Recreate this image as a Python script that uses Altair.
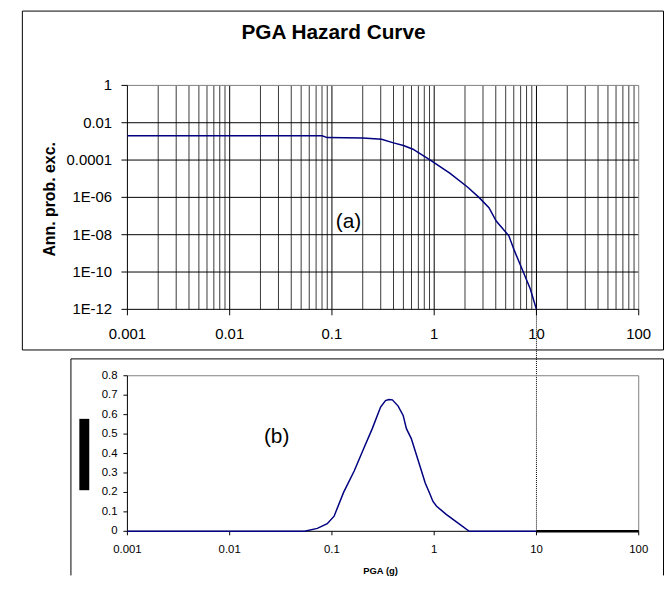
import altair as alt
import pandas as pd

# ---------------- data ----------------
# (a) hazard curve
haz_pga = [0.001, 0.08, 0.09, 0.2, 0.306, 0.4, 0.5, 0.62, 0.94, 1.42, 2.13, 2.77,
           3.43, 4.04, 5.37, 6.08, 7.33, 8.67, 10]
haz_prob = [2.0e-3, 2.0e-3, 1.6e-3, 1.5e-3, 1.3e-3, 8.3e-4, 6.0e-4, 3.8e-4, 9.0e-5,
            2.0e-5, 3.5e-6, 9.4e-7, 2.8e-7, 5.4e-8, 8.7e-9, 1.4e-9, 1.2e-10,
            1.3e-11, 1.0e-12]

# (b) density curve
pdf_pga = [0.001, 0.054, 0.072, 0.09, 0.105, 0.13, 0.165, 0.206, 0.248, 0.299,
           0.334, 0.36, 0.39, 0.444, 0.497, 0.535, 0.597, 0.72, 0.817, 0.9, 0.97,
           1.05, 1.31, 1.7, 2.2, 10]
pdf_val = [0, 0, 0.015, 0.039, 0.078, 0.2, 0.31, 0.43, 0.528, 0.639, 0.672,
           0.678, 0.676, 0.644, 0.596, 0.528, 0.477, 0.341, 0.248, 0.197, 0.155,
           0.13, 0.087, 0.043, 0, 0]
tail_pga = [10, 100]
tail_val = [0, 0]

# axes ticks and labels
x_tick_values = [0.001, 0.01, 0.1, 1, 10, 100]
x_tick_labels = ["0.001", "0.01", "0.1", "1", "10", "100"]
y_top_values = [1, 1e-2, 1e-4, 1e-6, 1e-8, 1e-10, 1e-12]
y_top_labels = ["1", "0.01", "0.0001", "1E-06", "1E-08", "1E-10", "1E-12"]
y_bot_values = [0, 0.1, 0.2, 0.3, 0.4, 0.5, 0.6, 0.7, 0.8]
y_bot_labels = ["0", "0.1", "0.2", "0.3", "0.4", "0.5", "0.6", "0.7", "0.8"]

# gridlines of panel (a)
decades = [0.001, 0.01, 0.1, 1, 10]
minor_mult = [2, 3, 4, 5, 6, 7, 8, 9]
v_minor = [round(m * d, 6) for d in decades for m in minor_mult]
v_major = [0.01, 0.1, 1, 10]
h_major = [1e-2, 1e-4, 1e-6, 1e-8, 1e-10]

# annotations
title_text = "PGA Hazard Curve"
ytitle_text = "Ann. prob. exc."
xtitle_text = "PGA (g)"
label_a = {"pga": [0.145], "prob": [2.2e-8], "t": ["(a)"]}
label_b = {"pga": [0.0288], "val": [0.454], "t": ["(b)"]}
marker_pga = 10
marker_top = 3.6e-8

# ---------------- layout ----------------
W, H = 662, 570
FONT = "Liberation Sans"
XR = [120.5, 636.5]
YR_TOP = [301.5, 75.5]
YR_BOT = [525.5, 368.5]
NAVY = "#000080"
GREY = "#808080"

xs_top = alt.Scale(type="log", domain=[0.001, 100], range=XR, nice=False)
xs_bot = alt.Scale(type="log", domain=[0.001, 100], range=XR, nice=False)
ys_top = alt.Scale(type="log", domain=[1e-12, 1], range=YR_TOP, nice=False)
ys_bot = alt.Scale(type="linear", domain=[0, 0.8], range=YR_BOT, nice=False, zero=False)

one = pd.DataFrame({"a": [0]})


def X(field, sc):
    return alt.X(field, scale=sc, axis=None)


def Y(field, sc):
    return alt.Y(field, scale=sc, axis=None)


def vrules(values, lo, hi, xs, ys, color, width=1, dash=None):
    df = pd.DataFrame({"x": values, "y1": lo, "y2": hi})
    kw = dict(color=color, strokeWidth=width)
    if dash:
        kw["strokeDash"] = dash
    return alt.Chart(df).mark_rule(**kw).encode(x=X("x:Q", xs), y=Y("y1:Q", ys), y2="y2:Q")


def hrules(values, lo, hi, xs, ys, color, width=1):
    df = pd.DataFrame({"y": values, "x1": lo, "x2": hi})
    return alt.Chart(df).mark_rule(color=color, strokeWidth=width).encode(
        x=X("x1:Q", xs), x2="x2:Q", y=Y("y:Q", ys))


def xaxis(xs, ys, y_at, tick_px, label_px, size):
    dft = pd.DataFrame({"x": x_tick_values, "y": y_at, "t": x_tick_labels})
    ticks = alt.Chart(dft).mark_rule(color="black", strokeWidth=1).encode(
        x=X("x:Q", xs), y=Y("y:Q", ys), y2=alt.value(tick_px))
    labels = alt.Chart(dft).mark_text(
        font=FONT, fontSize=size, color="black", align="center", baseline="alphabetic"
    ).encode(x=X("x:Q", xs), y=alt.value(label_px), text="t:N")
    return [ticks, labels]


def yaxis(values, texts, xs, ys, x_at, tick_px, label_px, size):
    dft = pd.DataFrame({"y": values, "x": x_at, "t": texts})
    ticks = alt.Chart(dft).mark_rule(color="black", strokeWidth=1).encode(
        y=Y("y:Q", ys), x=X("x:Q", xs), x2=alt.value(tick_px))
    labels = alt.Chart(dft).mark_text(
        font=FONT, fontSize=size, color="black", align="right", baseline="middle"
    ).encode(y=Y("y:Q", ys), x=alt.value(label_px), text="t:N")
    return [ticks, labels]


def border(x1, x2, y1, y2, sides):
    out = []
    if "t" in sides:
        out.append(alt.Chart(one).mark_rule(color="black").encode(
            x=alt.value(x1), x2=alt.value(x2), y=alt.value(y1)))
    if "b" in sides:
        out.append(alt.Chart(one).mark_rule(color="black").encode(
            x=alt.value(x1), x2=alt.value(x2), y=alt.value(y2)))
    if "l" in sides:
        out.append(alt.Chart(one).mark_rule(color="black").encode(
            x=alt.value(x1), y=alt.value(y1), y2=alt.value(y2)))
    if "r" in sides:
        out.append(alt.Chart(one).mark_rule(color="black").encode(
            x=alt.value(x2), y=alt.value(y1), y2=alt.value(y2)))
    return out


# ---------- panel (a) ----------
df_haz = pd.DataFrame({"pga": haz_pga, "prob": haz_prob})
df_mark = pd.DataFrame({"pga": [marker_pga], "p1": [marker_top]})

top_layers = [
    vrules(v_minor, 1.0, 1e-12, xs_top, ys_top, "#3a3a3a"),
    vrules(v_major, 1.0, 1e-12, xs_top, ys_top, "black"),
    hrules(h_major, 0.001, 100.0, xs_top, ys_top, "black"),
    hrules([1.0], 0.001, 100.0, xs_top, ys_top, GREY),
    vrules([100.0], 1.0, 1e-12, xs_top, ys_top, GREY),
    vrules([0.001], 1.0, 1e-12, xs_top, ys_top, "black"),
    hrules([1e-12], 0.001, 100.0, xs_top, ys_top, "black"),
    *xaxis(xs_top, ys_top, 1e-12, YR_TOP[0] + 6, 331, 15),
    *yaxis(y_top_values, y_top_labels, xs_top, ys_top, 0.001, XR[0] - 6, 105, 15),
    alt.Chart(df_haz).mark_line(color=NAVY, strokeWidth=1.5).encode(
        x=X("pga:Q", xs_top), y=Y("prob:Q", ys_top)),
    alt.Chart(df_mark).mark_rule(color="black", strokeWidth=1, strokeDash=[1, 1]).encode(
        x=X("pga:Q", xs_top), y=Y("p1:Q", ys_top), y2=alt.value(YR_BOT[0])),
    alt.Chart(pd.DataFrame(label_a)).mark_text(
        font=FONT, fontSize=21, color="black", align="center", baseline="alphabetic"
    ).encode(x=X("pga:Q", xs_top), y=Y("prob:Q", ys_top), text="t:N"),
    alt.Chart(one).mark_text(
        text=title_text, font=FONT, fontSize=21, fontWeight="bold", color="black",
        align="center", baseline="alphabetic").encode(x=alt.value(328.5), y=alt.value(28.5)),
    alt.Chart(one).mark_text(
        text=ytitle_text, font=FONT, fontSize=16, fontWeight="bold", color="black",
        align="center", baseline="alphabetic", angle=270
    ).encode(x=alt.value(47), y=alt.value(190.5)),
    *border(14.5, 661.5, 0.5, 342.5, "tblr"),
]
top = alt.layer(*top_layers)

# ---------- panel (b) ----------
df_pdf = pd.DataFrame({"pga": pdf_pga, "val": pdf_val})
df_tail = pd.DataFrame({"pga": tail_pga, "val": tail_val})

bottom_layers = [
    hrules([0.8], 0.001, 100.0, xs_bot, ys_bot, GREY),
    vrules([100.0], 0.0, 0.8, xs_bot, ys_bot, GREY),
    vrules([0.001], 0.0, 0.8, xs_bot, ys_bot, "black"),
    hrules([0.0], 0.001, 100.0, xs_bot, ys_bot, "black"),
    *xaxis(xs_bot, ys_bot, 0.0, YR_BOT[0] + 4, 547, 11.5),
    *yaxis(y_bot_values, y_bot_labels, xs_bot, ys_bot, 0.001, XR[0] - 4, 110.5, 11.5),
    alt.Chart(df_pdf).mark_line(color=NAVY, strokeWidth=1.5).encode(
        x=X("pga:Q", xs_bot), y=Y("val:Q", ys_bot)),
    alt.Chart(df_tail).mark_line(color="black", strokeWidth=2.5).encode(
        x=X("pga:Q", xs_bot), y=Y("val:Q", ys_bot)),
    alt.Chart(pd.DataFrame(label_b)).mark_text(
        font=FONT, fontSize=21, color="black", align="center", baseline="alphabetic"
    ).encode(x=X("pga:Q", xs_bot), y=Y("val:Q", ys_bot), text="t:N"),
    alt.Chart(one).mark_text(
        text=xtitle_text, font=FONT, fontSize=9.5, fontWeight="bold", color="black",
        align="center", baseline="alphabetic").encode(x=alt.value(376), y=alt.value(569)),
    alt.Chart(one).mark_rect(color="black").encode(
        x=alt.value(72), x2=alt.value(82), y=alt.value(412), y2=alt.value(484)),
    *border(63.5, 661.5, 351.5, H, "tlr"),
]
bottom = alt.layer(*bottom_layers)

chart = alt.layer(top, bottom).resolve_scale(
    x="independent", y="independent"
).properties(
    width=W, height=H, padding=0,
    autosize=alt.AutoSizeParams(type="none"),
    background="white",
).configure_view(strokeWidth=0)

chart.save("out.html", embed_options={"renderer": "svg", "actions": False})
